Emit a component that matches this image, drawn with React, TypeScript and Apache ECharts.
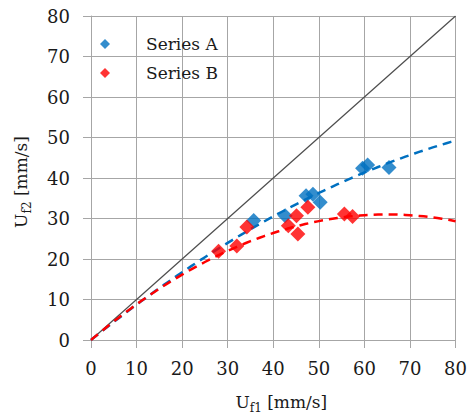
import React, { useEffect, useRef } from 'react';
import * as echarts from 'echarts';

const seriesNames = ['Series A', 'Series B'];
const seriesAX = [35.7, 42.6, 47.2, 48.7, 50.3, 59.6, 60.7, 65.4];
const seriesAY = [29.5, 30.7, 35.6, 36.0, 34.0, 42.4, 43.2, 42.6];
const seriesBX = [28.0, 32.0, 34.2, 43.3, 45.1, 45.4, 47.6, 55.6, 57.4];
const seriesBY = [21.9, 23.2, 27.9, 28.2, 30.7, 26.2, 32.8, 31.1, 30.5];
// polynomial trendline coefficients (y = c1 x + c2 x^2)
const trendACoef = [0.91, -0.00368];
const trendBCoef = [0.954, -0.00734];
const axisMin = 0;
const axisMax = 80;
const axisStep = 10;
const trendRange = [0, 80];
const identityLine = [[0, 0], [80, 80]];

const FONT = 'DejaVu Serif';

function trendPoints(coef: number[]) {
  const pts: number[][] = [];
  for (let x = trendRange[0]; x <= trendRange[1]; x += 1) {
    pts.push([x, coef[0] * x + coef[1] * x * x]);
  }
  return pts;
}

const zip = (xs: number[], ys: number[]) => xs.map((x, i) => [x, ys[i]]);

export default function App() {
  const ref = useRef<HTMLDivElement>(null);
  useEffect(() => {
    if (!ref.current) return;
    const chart = echarts.init(ref.current, null, { renderer: 'svg' });
    const gridColor = '#a6a6a6';
    const textColor = '#1a1a1a';
    const axisCommon = {
      type: 'value',
      min: axisMin,
      max: axisMax,
      interval: axisStep,
      nameLocation: 'middle',
      axisLine: { show: true, lineStyle: { color: gridColor, width: 1 } },
      axisTick: { show: true, length: 8, lineStyle: { color: gridColor, width: 1 } },
      splitLine: { show: true, lineStyle: { color: gridColor, width: 1 } },
      axisLabel: { color: textColor, fontFamily: FONT, fontSize: 18 },
      nameTextStyle: {
        color: textColor,
        fontFamily: FONT,
        fontSize: 17,
        rich: {
          m: { fontFamily: FONT, fontSize: 17, lineHeight: 24, color: textColor },
          s: { fontFamily: FONT, fontSize: 12, lineHeight: 12, verticalAlign: 'bottom', color: textColor },
        },
      },
    };
    chart.setOption({
      animation: false,
      backgroundColor: '#ffffff',
      textStyle: { fontFamily: FONT },
      grid: { left: 91, right: 11, top: 16, bottom: 77, containLabel: false },
      legend: {
        data: seriesNames,
        orient: 'vertical',
        left: 95,
        top: 27,
        itemWidth: 10,
        itemHeight: 10,
        itemGap: 5,
        icon: 'diamond',
        textStyle: { fontFamily: FONT, fontSize: 17, color: textColor, lineHeight: 24, padding: [0, 0, 0, 31] },
      },
      xAxis: {
        ...axisCommon,
        name: '{m|U}{s|f1}{m| [mm/s]}',
        nameGap: 50,
        nameTextStyle: { ...axisCommon.nameTextStyle, padding: [0, 0, 0, 16] },
        axisLabel: { ...axisCommon.axisLabel, margin: 19 },
      },
      yAxis: {
        ...axisCommon,
        name: '{m|U}{s|f2}{m| [mm/s]}',
        nameGap: 58,
        nameTextStyle: { ...axisCommon.nameTextStyle, padding: [0, 8, 0, 0] },
        axisLabel: { ...axisCommon.axisLabel, margin: 21 },
      },
      series: [
        {
          type: 'line',
          data: identityLine,
          symbol: 'none',
          silent: true,
          lineStyle: { color: '#4d4d4d', width: 1.2 },
          z: 1,
        },
        {
          type: 'line',
          data: trendPoints(trendACoef),
          symbol: 'none',
          silent: true,
          lineStyle: { color: '#0070C0', width: 2.5, type: [9, 6] },
          z: 2,
        },
        {
          type: 'line',
          data: trendPoints(trendBCoef),
          symbol: 'none',
          silent: true,
          lineStyle: { color: '#FF0000', width: 2.5, type: [9, 6] },
          z: 3,
        },
        {
          name: seriesNames[0],
          type: 'scatter',
          data: zip(seriesAX, seriesAY),
          symbol: 'diamond',
          symbolSize: 15,
          itemStyle: { color: '#0070C0' },
          z: 4,
        },
        {
          name: seriesNames[1],
          type: 'scatter',
          data: zip(seriesBX, seriesBY),
          symbol: 'diamond',
          symbolSize: 15,
          itemStyle: { color: '#FF0000' },
          z: 5,
        },
      ],
    });
    return () => chart.dispose();
  }, []);
  return <div ref={ref} style={{ width: 470, height: 419, position: 'absolute', left: 0, top: 0 }} />;
}
